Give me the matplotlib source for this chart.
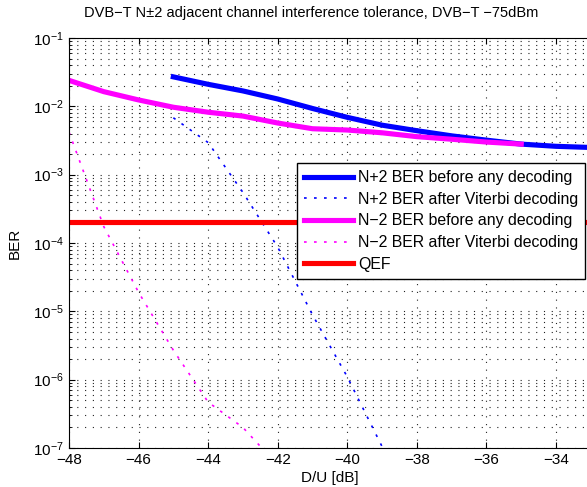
import numpy as np
import matplotlib
matplotlib.use('agg')
import matplotlib.pyplot as plt
from matplotlib.ticker import LogLocator, NullFormatter

plt.rcParams['font.family'] = ['Liberation Sans', 'DejaVu Sans']

# D/U [dB] and BER values
du_np2 = [-45, -44, -43, -42, -41, -40, -39, -38, -37, -36, -35, -34, -33]
ber_np2 = [0.027, 0.021, 0.0168, 0.0128, 0.0093, 0.0069, 0.0053, 0.0044,
           0.0037, 0.0032, 0.0028, 0.0026, 0.0025]

du_np2_vit = [-45, -44, -43, -42, -41, -40, -39]
ber_np2_vit = [6.8e-3, 2.95e-3, 5.5e-4, 8.7e-5, 8.9e-6, 1.1e-6, 1.05e-7]

du_nm2 = [-48, -47, -46, -45, -44, -43, -42, -41, -40, -39, -38, -37, -36, -35]
ber_nm2 = [0.024, 0.0164, 0.0124, 0.0097, 0.0082, 0.0072, 0.0057, 0.0047,
           0.0045, 0.0041, 0.0036, 0.0033, 0.0030, 0.0028]

du_nm2_vit = [-48, -47, -46, -45, -44, -43, -42]
ber_nm2_vit = [4.2e-3, 1.74e-4, 1.9e-5, 2.7e-6, 4.7e-7, 2.0e-7, 5.6e-8]

qef_x = [-48, -33]
qef_y = [2e-4, 2e-4]

xticks = [-48, -46, -44, -42, -40, -38, -36, -34]

fig = plt.figure(figsize=(5.87, 4.87), dpi=100)
ax = fig.add_axes([0.1175, 0.080, 0.889, 0.842])

dot = (0, (1.6, 4.4))
ax.semilogy(du_np2, ber_np2, color='#0000ff', lw=3.7, label='N+2 BER before any decoding')
ax.semilogy(du_np2_vit, ber_np2_vit, color='#0000ff', lw=1.2, ls=dot,
            label='N+2 BER after Viterbi decoding')
ax.semilogy(du_nm2, ber_nm2, color='#ff00ff', lw=3.7, label='N\u22122 BER before any decoding')
ax.semilogy(du_nm2_vit, ber_nm2_vit, color='#ff00ff', lw=1.2, ls=dot,
            label='N\u22122 BER after Viterbi decoding')
ax.semilogy(qef_x, qef_y, color='#ff0000', lw=3.7, label='QEF')

ax.set_xlim(-48, -33)
ax.set_ylim(1e-7, 1e-1)
ax.set_xticks(xticks)
ax.set_xticklabels([str(t).replace('-', '\u2212') for t in xticks])
ax.yaxis.set_major_locator(LogLocator(base=10, numticks=10))
ax.yaxis.set_minor_locator(LogLocator(base=10, subs=np.arange(2, 10), numticks=20))
ax.yaxis.set_minor_formatter(NullFormatter())

ax.tick_params(which='both', direction='in', top=True, right=False, labelsize=11)
ax.tick_params(which='major', length=4)
ax.tick_params(which='minor', length=2)
ax.spines['right'].set_visible(False)

ax.grid(True, which='major', axis='both', color='#222222', ls=(0, (1, 6)), lw=0.8)
ax.grid(True, which='minor', axis='y', color='#222222', ls=(0, (1, 6)), lw=0.8)

ax.set_title('DVB\u2212T N\u00b12 adjacent channel interference tolerance, DVB\u2212T \u221275dBm',
             fontsize=10.5, pad=15, x=0.464)
ax.set_xlabel('D/U [dB]', fontsize=11, labelpad=3)
ax.set_ylabel('BER', fontsize=11, labelpad=8)

leg = ax.legend(loc='upper left', bbox_to_anchor=(0.437, 0.695), borderaxespad=0,
                fontsize=11.4, handlelength=3.1, borderpad=0.45, labelspacing=0.42,
                handletextpad=0.3, fancybox=False, framealpha=1, edgecolor='k')
leg.get_frame().set_linewidth(1.0)

fig.savefig('out.png', dpi=100)
